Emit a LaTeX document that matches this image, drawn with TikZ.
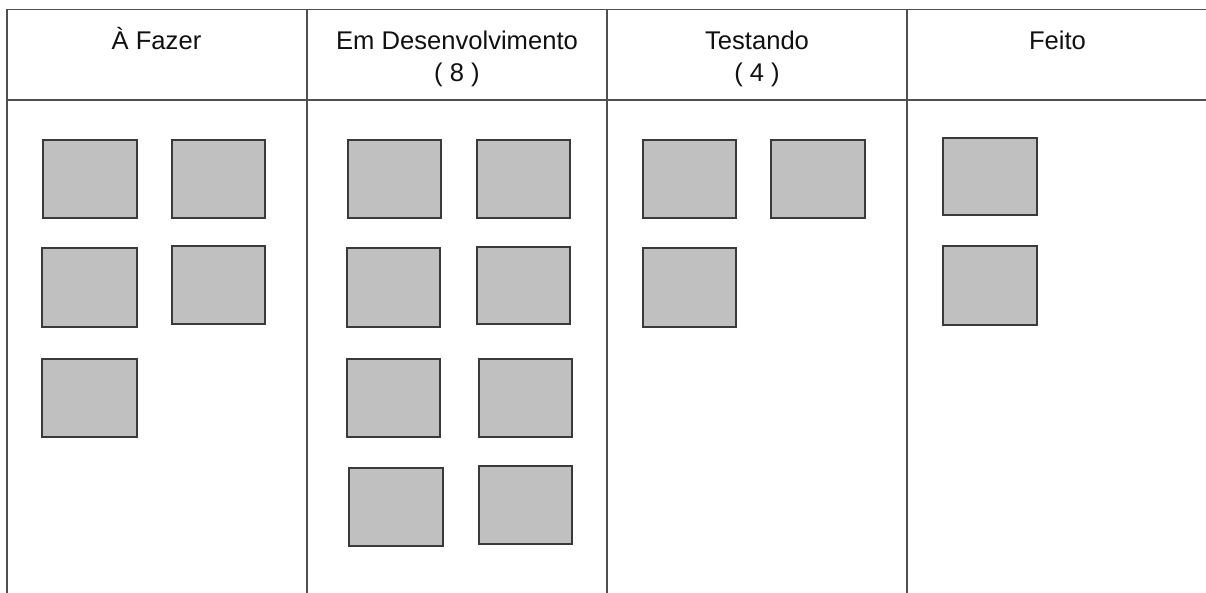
\documentclass[tikz,border=0pt]{standalone}
\usepackage{fontspec}
\setmainfont{Liberation Sans}
\definecolor{linegray}{HTML}{505050}
\definecolor{cardborder}{HTML}{3A3A3A}
\definecolor{cardfill}{HTML}{C0C0C0}
\definecolor{txt}{HTML}{111111}
\begin{document}
\begin{tikzpicture}[x=1pt,y=-1pt,
  grid/.style={draw=linegray,line width=1.3pt},
  card/.style={draw=cardborder,fill=cardfill,line width=1.2pt},
  head/.style={anchor=base,align=center,text=txt,inner sep=0pt,
    font=\fontsize{25.6}{32.4}\selectfont}]
\useasboundingbox (0,0) rectangle (1206,593);
\fill[white] (0,0) rectangle (1206,593);
% grid
\coordinate (tl) at (7,9.5);
\coordinate (tr) at (1206,9.5);
\coordinate (hl) at (7,100);
\coordinate (hr) at (1206,100);
\draw[grid] (tl) -- (tr);
\draw[grid] (hl) -- (hr);
\foreach \x/\n in {7/a,307/b,607/c,907/d}{
  \coordinate (v\n top) at (\x,9.5);
  \coordinate (v\n bot) at (\x,593);
  \draw[grid] (v\n top) -- (v\n bot);
}
% headers (base anchor = baseline of the last line)
\node[head] (h1) at (156.5,49.3) {À Fazer};
\node[head] (h2) at (457,81.7) {Em Desenvolvimento\\( 8 )};
\node[head] (h3) at (757,81.7) {Testando\\( 4 )};
\node[head] (h4) at (1057.5,49.3) {Feito};
% cards
\foreach \n/\a/\b/\c/\d in {
  a1/43/140/137/218, a2/172/140/265/218, a3/42/248/137/327, a4/172/246/265/324, a5/42/359/137/437,
  b1/348/140/441/218, b2/477/140/570/218, b3/347/248/440/327, b4/477/247/570/324,
  b5/347/359/440/437, b6/479/359/572/437, b7/349/468/443/546, b8/479/466/572/544,
  c1/643/140/736/218, c2/771/140/865/218, c3/643/248/736/327,
  d1/943/138/1037/215, d2/943/246/1037/325}{
  \draw[card] (\a,\b) rectangle (\c,\d);
  \coordinate (\n) at ({(\a+\c)/2},{(\b+\d)/2});
}
\end{tikzpicture}
\end{document}
